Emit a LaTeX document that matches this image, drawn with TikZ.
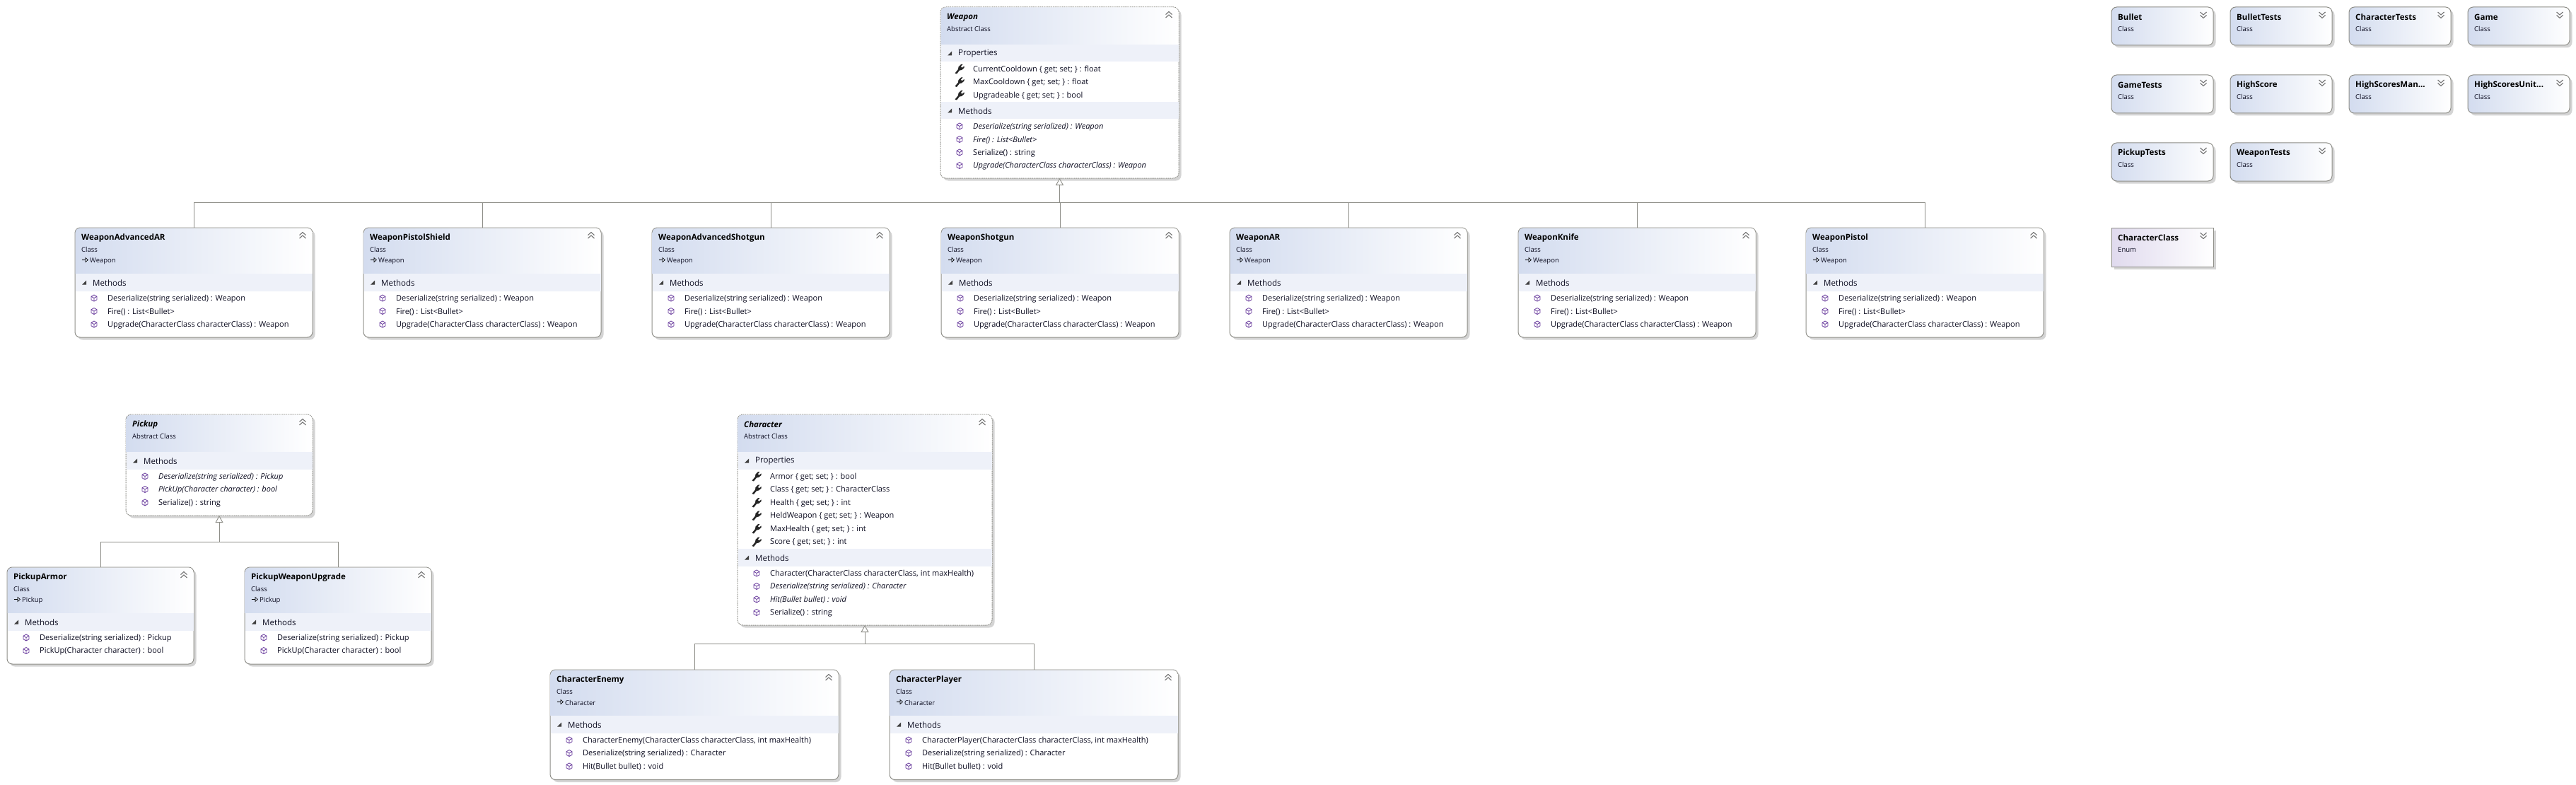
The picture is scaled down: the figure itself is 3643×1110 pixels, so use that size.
\documentclass[tikz,border=0pt]{standalone}
\usepackage{fontspec}
\setmainfont{Open Sans}
\usetikzlibrary{arrows.meta}
\usetikzlibrary{calc}
\usetikzlibrary{shadows}
\definecolor{edgegray}{HTML}{8E8E88}
\definecolor{headblue}{HTML}{D3DCEF}
\definecolor{headpurple}{HTML}{E0DAEE}
\definecolor{bandblue}{HTML}{EEF1F9}
\definecolor{inkblue}{HTML}{0C0C20}
\definecolor{cubepurple}{HTML}{6A3D9E}
\tikzset{
    >=Stealth,
    classbody/.style={draw=edgegray, line width=1pt, fill=white, rounded corners=7.5pt,
        anchor=north west, inner sep=0pt, outer sep=0pt,
        drop shadow={shadow xshift=3.5pt, shadow yshift=-3.5pt, fill=black!17, opacity=1}},
    abstractbody/.style={classbody, dash pattern=on 1.6pt off 1pt},
    foldedbody/.style={classbody, left color=headblue, right color=white},
    enumbody/.style={foldedbody, left color=headpurple, rounded corners=0pt},
    titletext/.style={anchor=west, inner sep=0pt, font=\fontsize{11.5}{14}\selectfont\bfseries, text=black},
    kindtext/.style={anchor=west, inner sep=0pt, font=\fontsize{9.5}{12}\selectfont, text=inkblue},
    membertext/.style={anchor=west, inner sep=0pt, font=\fontsize{11}{14}\selectfont, text=inkblue},
    bandtext/.style={membertext, font=\fontsize{11.5}{14}\selectfont},
    inherit/.style={draw=edgegray, line width=0.9pt},
    inherittip/.style={inherit, -{Triangle[open, length=10pt, width=11pt, fill=white]}},
    cube/.pic={
        \draw[cubepurple, line width=0.8pt, line join=round]
            (0,-4.5) -- (4,-2.3) -- (4,2.3) -- (0,4.5) -- (-4,2.3) -- (-4,-2.3) -- cycle
            (-4,-2.3) -- (0,0) -- (4,-2.3) (0,0) -- (0,4.5);
    },
    wrench/.pic={
        \fill[black!85] (-6.5,6) -- (-2,0.5) -- (-1.5,-3) -- (2,-6.5) -- (4.5,-6.5) -- (1.8,-3.4)
            -- (3.4,-1.6) -- (6.5,-4) -- (6.5,-1.5) -- (3,1.5) -- (0,2) -- (-4,7) -- cycle;
    },
    foldtip/.pic={
        \fill[black!75] (-3,3) -- (3,3) -- (3,-3) -- cycle;
    },
    parentmark/.pic={
        \draw[black, line width=0.7pt] (-4.5,0) -- (1,0);
        \draw[black, line width=0.6pt] (1,-3) -- (4.5,0) -- (1,3) -- cycle;
    },
    chevup/.pic={
        \draw[black!55, line width=1.1pt] (-4.5,-0.5) -- (0,-4.5) -- (4.5,-0.5) (-4.5,4) -- (0,0) -- (4.5,4);
    },
    chevdown/.pic={
        \draw[black!55, line width=1.1pt] (-4.5,-4) -- (0,0) -- (4.5,-4) (-4.5,0.5) -- (0,4.5) -- (4.5,0.5);
    },
}
% header with gradient, name, kind and optional parent
\newcommand{\classhead}[5]{
    \shade[left color=headblue, right color=white]
        ($(#1.north west)+(0.5,#2)$) [rounded corners=7pt] -- ($(#1.north west)+(0.5,0.5)$)
        -- ($(#1.north east)+(-0.5,0.5)$) [sharp corners] -- ($(#1.north east)+(-0.5,#2)$) -- cycle;
    \node[titletext] (#1-title) at ($(#1.north west)+(9,14.5)$) {#3};
    \node[kindtext] (#1-kind) at ($(#1.north west)+(9,31)$) {#4};
    \pic at ($(#1.north east)+(-14,11)$) {chevup};
    \if\relax\detokenize{#5}\relax\else
        \pic at ($(#1.north west)+(14,45.5)$) {parentmark};
        \node[kindtext] (#1-parent) at ($(#1.north west)+(21,47)$) {#5};
    \fi
}
% band and its rows
\newcommand{\members}[5]{
    \fill[bandblue] ($(#1.north west)+(0.5,#2)$) rectangle ($(#1.north east)+(-0.5,#2+24.5)$);
    \pic at ($(#1.north west)+(13,#2+12.5)$) {foldtip};
    \node[bandtext] (#1-#3) at ($(#1.north west)+(25,#2+13)$) {#3};
    \foreach \row [count=\i from 0] in {#5} {
        \pic at ($(#1.north west)+(27,#2+34.5+18.5*\i)$) {#4};
        \node[membertext] (#1-#3-\i) at ($(#1.north west)+(46,#2+35.5+18.5*\i)$) {\row};
    }
}
\newcommand{\foldedclass}[4]{
    \node[foldedbody, minimum width=144pt, minimum height=54pt] (#1) at (#2,#3) {};
    \node[titletext] (#1-title) at ($(#1.north west)+(9,14.5)$) {#4};
    \node[kindtext] (#1-kind) at ($(#1.north west)+(9,31)$) {Class};
    \pic at ($(#1.north east)+(-14,11)$) {chevdown};
}
\begin{document}
\begin{tikzpicture}[x=1pt, y=-1pt]
\useasboundingbox (0,0) rectangle (3643,1110);

% weapon family
\node[abstractbody, minimum width=337pt, minimum height=242pt] (Weapon) at (1330,10) {};
\classhead{Weapon}{53}{\itshape Weapon}{Abstract Class}{}
\members{Weapon}{53}{Properties}{wrench}{CurrentCooldown \{ get; set; \} : float,
    MaxCooldown \{ get; set; \} : float, Upgradeable \{ get; set; \} : bool}
\members{Weapon}{134}{Methods}{cube}{\itshape Deserialize(string serialized) : Weapon,
    \itshape Fire() : List<Bullet>, Serialize() : string,
    \itshape Upgrade(CharacterClass characterClass) : Weapon}
\coordinate (weaponbus) at (Weapon.south |- 0,286);
\foreach \nm/\x in {WeaponAdvancedAR/106, WeaponPistolShield/514, WeaponAdvancedShotgun/922,
    WeaponShotgun/1331, WeaponAR/1739, WeaponKnife/2147, WeaponPistol/2554} {
    \node[classbody, minimum width=336pt, minimum height=155pt] (\nm) at (\x,322) {};
    \classhead{\nm}{65}{\nm}{Class}{Weapon}
    \members{\nm}{65}{Methods}{cube}{Deserialize(string serialized) : Weapon,
        Fire() : List<Bullet>, Upgrade(CharacterClass characterClass) : Weapon}
    \draw[inherit] (\nm.north) |- (weaponbus);
}
\draw[inherittip] (weaponbus) -- (Weapon.south);

% pickup family
\node[abstractbody, minimum width=264pt, minimum height=143pt] (Pickup) at (178,586) {};
\classhead{Pickup}{53}{\itshape Pickup}{Abstract Class}{}
\members{Pickup}{53}{Methods}{cube}{\itshape Deserialize(string serialized) : Pickup,
    \itshape PickUp(Character character) : bool, Serialize() : string}
\coordinate (pickupbus) at (Pickup.south |- 0,766);
\foreach \nm/\x in {PickupArmor/10, PickupWeaponUpgrade/346} {
    \node[classbody, minimum width=264pt, minimum height=137pt] (\nm) at (\x,802) {};
    \classhead{\nm}{65}{\nm}{Class}{Pickup}
    \members{\nm}{65}{Methods}{cube}{Deserialize(string serialized) : Pickup,
        PickUp(Character character) : bool}
    \draw[inherit] (\nm.north) |- (pickupbus);
}
\draw[inherittip] (pickupbus) -- (Pickup.south);

% character family
\node[abstractbody, minimum width=360pt, minimum height=298pt] (Character) at (1043,586) {};
\classhead{Character}{53}{\itshape Character}{Abstract Class}{}
\members{Character}{53}{Properties}{wrench}{Armor \{ get; set; \} : bool,
    Class \{ get; set; \} : CharacterClass, Health \{ get; set; \} : int,
    HeldWeapon \{ get; set; \} : Weapon, MaxHealth \{ get; set; \} : int, Score \{ get; set; \} : int}
\members{Character}{190}{Methods}{cube}{{Character(CharacterClass characterClass, int maxHealth)},
    \itshape Deserialize(string serialized) : Character, \itshape Hit(Bullet bullet) : void,
    Serialize() : string}
\coordinate (characterbus) at (Character.south |- 0,910);
\foreach \nm/\x in {CharacterEnemy/778, CharacterPlayer/1258} {
    \node[classbody, minimum width=408pt, minimum height=155.5pt] (\nm) at (\x,947) {};
    \classhead{\nm}{65}{\nm}{Class}{Character}
    \members{\nm}{65}{Methods}{cube}{{\nm(CharacterClass characterClass, int maxHealth)},
        Deserialize(string serialized) : Character, Hit(Bullet bullet) : void}
    \draw[inherit] (\nm.north) |- (characterbus);
}
\draw[inherittip] (characterbus) -- (Character.south);

% unconnected classes
\foldedclass{Bullet}{2986}{10}{Bullet}
\foldedclass{BulletTests}{3154}{10}{BulletTests}
\foldedclass{CharacterTests}{3322}{10}{CharacterTests}
\foldedclass{Game}{3490}{10}{Game}
\foldedclass{GameTests}{2986}{106}{GameTests}
\foldedclass{HighScore}{3154}{106}{HighScore}
\foldedclass{HighScoresMan}{3322}{106}{HighScoresMan...}
\foldedclass{HighScoresUnit}{3490}{106}{HighScoresUnit...}
\foldedclass{PickupTests}{2986}{202}{PickupTests}
\foldedclass{WeaponTests}{3154}{202}{WeaponTests}

\node[enumbody, minimum width=144pt, minimum height=55pt] (CharacterClass) at (2986,322) {};
\node[titletext] (CharacterClass-title) at ($(CharacterClass.north west)+(9,14.5)$) {CharacterClass};
\node[kindtext] (CharacterClass-kind) at ($(CharacterClass.north west)+(9,31)$) {Enum};
\pic at ($(CharacterClass.north east)+(-14,11)$) {chevdown};
\end{tikzpicture}
\end{document}
